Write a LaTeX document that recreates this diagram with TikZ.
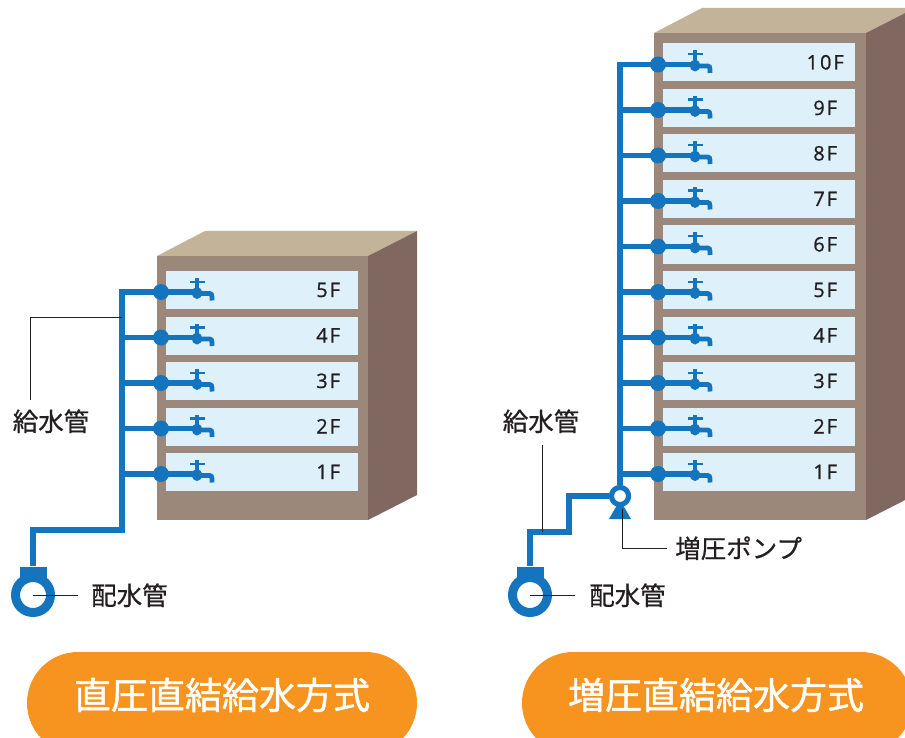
\documentclass[tikz,border=0pt]{standalone}
\usepackage{fontspec}
\setmainfont{Noto Sans CJK JP}[FakeBold=0.6]
\newfontfamily\titlefont{Noto Sans CJK JP}[FakeBold=1.2]
\newfontfamily\flrfont{Open Sans}[LetterSpace=10,FakeBold=0.8]
\usetikzlibrary{positioning,calc}

\definecolor{pipe}{RGB}{20,116,189}
\definecolor{wall}{RGB}{155,136,122}
\definecolor{wallside}{RGB}{128,104,96}
\definecolor{roof}{RGB}{195,179,153}
\definecolor{room}{RGB}{222,241,250}
\definecolor{badge}{RGB}{246,148,31}
\definecolor{ink}{RGB}{35,31,32}

% water tap, anchored where the branch pipe meets its body
\tikzset{
  tap/.pic={
    \fill[pipe] (-7.5,-11.5) rectangle (7.5,-9);
    \fill[pipe] (-2.2,-14) rectangle (2.2,-11);
    \fill[pipe] (-2,-9) rectangle (2,-4);
    \fill[pipe] (0,1) ellipse [x radius=5, y radius=6];
    \draw[pipe,line width=4.8pt] (0,1.5) -- (10,1.5) .. controls (15,1.5) .. (15,8.5);
  }
}

\begin{document}
\begin{tikzpicture}[x=1pt,y=-1pt,
  floor/.style={fill=room, minimum width=192pt, minimum height=38pt, inner sep=0},
  flr/.style={text=ink, font=\flrfont\fontsize{20}{20}\selectfont, inner sep=0, anchor=base},
  joint/.style={circle, fill=pipe, minimum size=16pt, inner sep=0},
  pipeline/.style={draw=pipe, line width=5.5pt, line join=miter},
  leader/.style={draw=ink, line width=0.9pt},
  note/.style={text=ink, font=\fontsize{25.5}{26}\selectfont, inner sep=0},
  ring/.style={circle, draw=pipe, line width=9pt, fill=white, minimum size=35pt, inner sep=0},
  flange/.style={fill=pipe, minimum width=27pt, minimum height=11pt, inner sep=0},
  pump/.style={circle, draw=pipe, line width=5pt, fill=white, minimum size=17pt, inner sep=0},
  pill/.style={fill=badge, rounded corners=51pt, minimum width=390pt, minimum height=102pt},
  pilltext/.style={text=white, font=\titlefont\fontsize{37}{37}\selectfont, inner sep=0, anchor=base}]

\clip (0,0) rectangle (905,738);

% --- low-rise block, 5 floors ---
\fill[roof] (157,256) -- (205,231) -- (417,231) -- (368,256) -- cycle;
\fill[wallside] (368,256) -- (417,231) -- (417,495) -- (368,520) -- cycle;
\fill[wall] (157,256) rectangle (368,520);

\foreach \i in {1,...,5} {
  \node[floor] (lf\i) at (262,{517.5-45.5*\i}) {};
  \node[flr] (ln\i) at ($(lf\i.east)+(-30,7)$) {\i F};
  \coordinate (lv\i) at (122,{519.5-45.5*\i});
  \coordinate (lt\i) at (197,{519.5-45.5*\i});
}

\coordinate (lbend) at (122,530);
\node[flange] (lfl) at (33,572) {};
\draw[pipeline] (lt5) -- (lv5) -- (lbend) -| (lfl.north);
\foreach \i in {1,...,4}
  \draw[pipeline] (lv\i) -- (lt\i);
\node[ring] (lring) at (33,595) {};

\foreach \i in {1,...,5} {
  \node[joint] (lj\i) at (161,{519.5-45.5*\i}) {};
  \pic at (lt\i) {tap};
}

% labels, left
\node[note, anchor=base] (lkyu) at (51,431) {給水管};
\coordinate (lkyutop) at (30,400);
\coordinate (lkyuend) at (122,317);
\draw[leader] (lkyutop) |- (lkyuend);

\node[note, anchor=base west] (lhaisui) at (91,605) {配水管};
\coordinate (lhaisuiend) at (78,595);
\draw[leader] (lring.center) -- (lhaisuiend);

% --- high-rise block, 10 floors ---
\fill[roof] (654,33) -- (702,8) -- (915,8) -- (866,33) -- cycle;
\fill[wallside] (866,33) -- (915,8) -- (915,495) -- (866,520) -- cycle;
\fill[wall] (654,33) rectangle (866,520);

\foreach \i in {1,...,10} {
  \node[floor] (rf\i) at (759,{517.5-45.5*\i}) {};
  \node[flr] (rn\i) at ($(rf\i.east)+(-30,7)$) {\i F};
  \coordinate (rv\i) at (620,{519.5-45.5*\i});
  \coordinate (rt\i) at (695,{519.5-45.5*\i});
}

% booster pump
\fill[pipe] (609,519) -- (631,519) -- (620,500) -- cycle;
\node[pump] (pump) at (620,496) {};

\coordinate (rstep) at (569,532);
\node[flange] (rfl) at (530,572) {};
\draw[pipeline] (rt10) -- (rv10) -- (pump.north);
\foreach \i in {1,...,9}
  \draw[pipeline] (rv\i) -- (rt\i);
\draw[pipeline] (pump.west) -| (rstep) -| (rfl.north);
\node[ring] (rring) at (530,595) {};
\node[pump] at (pump) {};

\foreach \i in {1,...,10} {
  \node[joint] (rj\i) at (658,{519.5-45.5*\i}) {};
  \pic at (rt\i) {tap};
}

% labels, right
\node[note, anchor=base] (rkyu) at (541,431) {給水管};
\coordinate (rkyutop) at (542,445);
\draw[leader] (rkyutop) -- (rkyutop |- rstep);

\node[note, anchor=base west] (rpump) at (675,558) {増圧ポンプ};
\coordinate (pumpfoot) at (622,509);
\coordinate (pumpend) at (667,548);
\draw[leader] (pumpfoot) |- (pumpend);

\node[note, anchor=base west] (rhaisui) at (589,605) {配水管};
\coordinate (rhaisuiend) at (575,595);
\draw[leader] (rring.center) -- (rhaisuiend);

% --- titles ---
\node[pill] (lbadge) at (222,703) {};
\node[pilltext] (ltitle) at (222,709) {直圧直結給水方式};
\node[pill] (rbadge) at (717,703) {};
\node[pilltext] (rtitle) at (716,709) {増圧直結給水方式};

\end{tikzpicture}
\end{document}
